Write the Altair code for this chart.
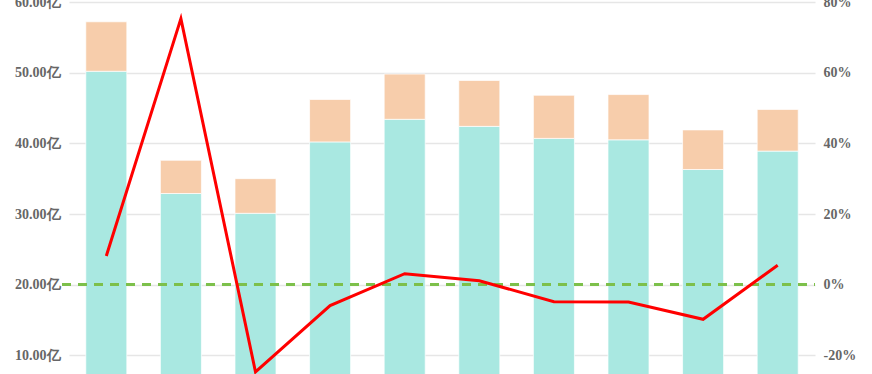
import altair as alt
import pandas as pd

categories = ["2013", "2014", "2015", "2016", "2017", "2018", "2019", "2020", "2021", "2022"]
base_values = [50.2, 32.9, 30.1, 40.2, 43.4, 42.4, 40.7, 40.5, 36.3, 38.9]
top_values = [7.0, 4.7, 4.9, 6.0, 6.4, 6.5, 6.1, 6.4, 5.6, 5.9]
growth_pct = [8.1, 75.3, -24.7, -5.9, 3.1, 1.1, -4.8, -4.9, -9.8, 5.5]
series_names = ["主营收入", "其他收入"]
series_colors = ["#A9E8E1", "#F7CDAB"]
left_ticks = [0, 10, 20, 30, 40, 50, 60]
right_ticks = [-40, -20, 0, 20, 40, 60, 80]

rows = []
for c, b, t in zip(categories, base_values, top_values):
    rows.append({"cat": c, "series": series_names[0], "val": b, "ord": 0})
    rows.append({"cat": c, "series": series_names[1], "val": t, "ord": 1})
bars_df = pd.DataFrame(rows)
line_df = pd.DataFrame({"cat": categories, "pct": growth_pct, "zero": [0] * len(categories)})

W, H = 746, 424
label_font = "Liberation Serif"

xenc = alt.X("cat:N", sort=categories, title=None,
             scale=alt.Scale(paddingInner=0.45, paddingOuter=0.225),
             axis=alt.Axis(domain=False, ticks=False, labels=False, grid=False))

bars = alt.Chart(bars_df).mark_bar(stroke="#ffffff", strokeWidth=1, strokeOpacity=0.7).encode(
    x=xenc,
    y=alt.Y("sum(val):Q", title=None, stack="zero",
            scale=alt.Scale(domain=[0, 60], nice=False, zero=True),
            axis=alt.Axis(values=left_ticks, domain=False, ticks=False,
                          labelExpr="format(datum.value, '.2f') + '亿'",
                          labelFont=label_font, labelFontWeight="bold", labelFontSize=14,
                          labelColor="#666666", labelPadding=9,
                          gridColor="#E6E6E6", gridWidth=1.5)),
    color=alt.Color("series:N", scale=alt.Scale(domain=series_names, range=series_colors), legend=None),
    order=alt.Order("ord:Q", sort="ascending"),
)

rscale = alt.Scale(domain=[-40, 80], nice=False, zero=False)
raxis = alt.Axis(orient="right", values=right_ticks, domain=False, ticks=False, grid=False,
                 labelExpr="datum.value + '%'",
                 labelFont=label_font, labelFontWeight="bold", labelFontSize=14,
                 labelColor="#666666", labelPadding=8)

rule = alt.Chart(line_df).mark_rule(color="#7DC04B", strokeWidth=2.5, strokeDash=[9, 7]).encode(
    y=alt.Y("zero:Q", title=None, scale=rscale, axis=raxis),
    x=alt.value(-7),
    x2=alt.value(W),
)

line = alt.Chart(line_df).mark_line(color="#FF0000", strokeWidth=3).encode(
    x=alt.X("cat:N", sort=categories, axis=None),
    y=alt.Y("pct:Q", title=None, scale=rscale, axis=raxis),
)

right_layer = alt.layer(rule, line)

chart = alt.layer(bars, right_layer).resolve_scale(y="independent").properties(
    width=W, height=H,
    background="#ffffff",
    padding={"left": 69, "top": 2, "right": 57, "bottom": 40},
    autosize=alt.AutoSizeParams(type="none"),
).configure_view(strokeWidth=0).configure_axis(domain=False)

chart.save("out.html", embed_options={"renderer": "svg", "actions": False})
